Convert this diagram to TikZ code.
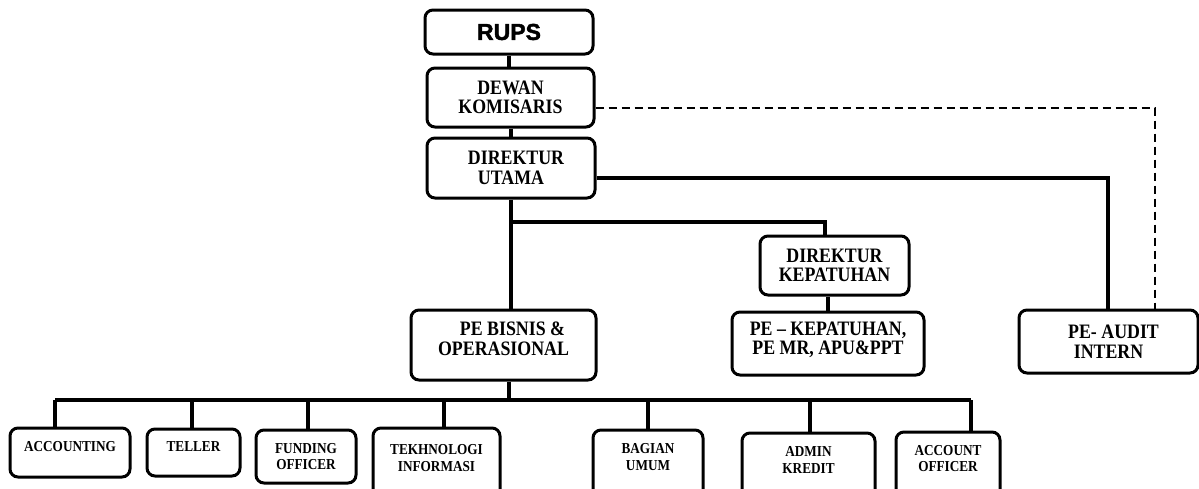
\documentclass[tikz,border=0pt]{standalone}
\usepackage{fontspec}
\setmainfont[FakeStretch=0.87]{Liberation Serif}
\newfontfamily\rupsfont[BoldFeatures={FakeBold=1.8}]{Liberation Sans}
\usetikzlibrary{calc}
\tikzset{
  box/.style={draw, line width=3pt, rounded corners=8pt, align=center, inner sep=0pt, font=\bfseries\fontsize{20.5}{19.5}\selectfont},
  sbox/.style={box, font=\bfseries\fontsize{15.2}{16.5}\selectfont},
  conn/.style={line width=3.2pt},
  dconn/.style={line width=2.6pt, dash pattern=on 8pt off 5pt},
}
\begin{document}
\begin{tikzpicture}[x=1pt,y=-1pt]
\useasboundingbox (0,0) rectangle (1199,488);
\clip (0,0) rectangle (1199,488);
% top column
\node[box, minimum width=168pt, minimum height=44pt] (rups) at (509,32) {\rupsfont\bfseries\fontsize{23}{24}\selectfont RUPS};
\node[box, minimum width=167pt, minimum height=59pt] (dewan) at (510.5,97.5) {DEWAN\\KOMISARIS};
\node[box, minimum width=168pt, minimum height=60pt] (dirut) at (511,168) {\hspace*{10pt}DIREKTUR\\UTAMA};
\node[box, minimum width=149pt, minimum height=59pt] (dirkep) at (834.5,265.5) {DIREKTUR\\KEPATUHAN};
\node[box, minimum width=192pt, minimum height=63pt, text depth=11pt] (pekep) at (828,343.5) {PE -- KEPATUHAN,\\PE MR, APU\&PPT};
\node[box, minimum width=179pt, minimum height=63pt] (peaudit) at (1108.5,341.5) {\hspace*{10pt}PE- AUDIT\\INTERN};
\node[box, minimum width=185pt, minimum height=70pt, text depth=13pt] (pebis) at (503.5,345) {\hspace*{18pt}PE BISNIS \&\\OPERASIONAL};
% bottom row
\node[sbox, minimum width=120pt, minimum height=49pt, text depth=13pt] (acc) at (70,452.5) {ACCOUNTING};
\node[sbox, minimum width=93pt, minimum height=47pt, text depth=12pt] (tel) at (193.5,452.5) {TELLER};
\node[sbox, minimum width=100pt, minimum height=53pt] (fund) at (306,456.5) {FUNDING\\OFFICER};
\node[sbox, minimum width=127pt, minimum height=72pt, text depth=12pt] (tek) at (436.5,464) {TEKHNOLOGI\\INFORMASI};
\node[sbox, minimum width=110pt, minimum height=70pt, text depth=16pt] (bag) at (648,465) {BAGIAN\\UMUM};
\node[sbox, minimum width=133pt, minimum height=67pt, text depth=13pt] (adm) at (808.5,466.5) {ADMIN\\KREDIT};
\node[sbox, minimum width=104pt, minimum height=68pt, text depth=15pt] (ao) at (948,466) {ACCOUNT\\OFFICER};
% helper coordinates
\coordinate (dashx) at (1155,108);
\coordinate (audx) at (1108,178);
\coordinate (b1l) at (511,222);
\coordinate (b1r) at (825,222);
\coordinate (b2) at (509,400);
\coordinate (b2l) at (55,400);
\coordinate (b2r) at (971,400);
% connectors
\draw[conn] (rups.south -| 509,0) -- (dewan.north -| 509,0);
\draw[conn] (dewan.south -| 511,0) -- (dirut.north -| 511,0);
\draw[dconn] (dewan.east |- dashx) -- (dashx) -- (dashx |- peaudit.north);
\draw[conn] (dirut.east |- audx) -- (audx) -- (audx |- peaudit.north);
\draw[conn] (dirut.south -| b1l) -- (b1l) -- (b1r) -- (b1r |- dirkep.north);
\draw[conn] (b1l) -- (b1l |- pebis.north);
\draw[conn] (dirkep.south -| 828,0) -- (pekep.north -| 828,0);
\draw[conn] (pebis.south -| b2) -- (b2);
\draw[conn] (b2l) -- (b2r);
\draw[conn] (b2l) -- (b2l |- acc.north);
\draw[conn] (192,400) -- (tel.north -| 192,0);
\draw[conn] (308,400) -- (fund.north -| 308,0);
\draw[conn] (444,400) -- (tek.north -| 444,0);
\draw[conn] (648,400) -- (bag.north -| 648,0);
\draw[conn] (810,400) -- (adm.north -| 810,0);
\draw[conn] (b2r) -- (b2r |- ao.north);
\end{tikzpicture}
\end{document}
